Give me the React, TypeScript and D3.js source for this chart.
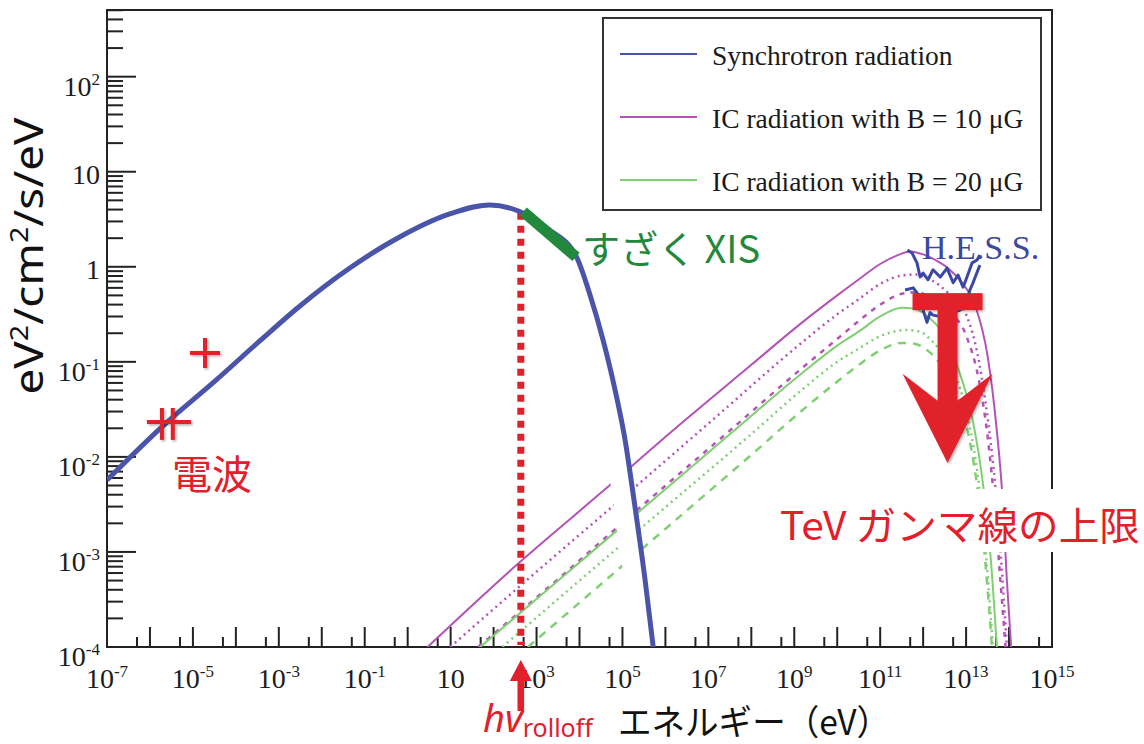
import React from "react";
import * as d3 from "d3";

// ---------- data (energy in eV, E^2 dN/dE in eV/cm2/s) ----------
const syncEnergy = [1e-7, 2.2e-6, 3.3e-5, 3.6e-4, 3.1e-3, 0.045, 0.65, 9.5, 81, 380, 2000, 8500, 1.76e4, 3.53e4, 6.73e4, 1.15e5, 1.86e5, 3.36e5, 5.2e5];
const syncFlux = [5.7e-3, 0.022, 0.063, 0.166, 0.387, 0.97, 2.06, 3.6, 4.48, 3.86, 2.44, 1.27, 0.505, 0.17, 0.0506, 0.0151, 3.5e-3, 5.1e-4, 1.0e-4];

const ic10SolidE = [2.9, 380, 3.8e4, 1.8e6, 1e8, 1.3e9, 1e10, 3.2e10, 1e11, 2.5e11, 5e11, 1e12, 2e12, 4e12, 8e12, 1.6e13, 3.2e13, 5e13, 7.1e13, 8.9e13, 1.12e14];
const ic10SolidF = [1e-4, 7.6e-4, 4.5e-3, 0.0204, 0.093, 0.245, 0.5, 0.74, 1.07, 1.32, 1.45, 1.35, 1.17, 0.95, 0.68, 0.4, 0.112, 0.0224, 3.5e-3, 5e-4, 1e-4];

const ic10DottedE = [9.8, 1e3, 1e5, 1e7, 1.3e9, 1e10, 3.2e10, 1e11, 3.2e11, 6.3e11, 1.6e12, 4e12, 1e13, 2e13, 3.2e13, 5e13, 6.6e13, 8.9e13];
const ic10DottedF = [1e-4, 6.2e-4, 3.7e-3, 0.0224, 0.151, 0.316, 0.457, 0.66, 0.81, 0.83, 0.72, 0.52, 0.316, 0.1, 0.025, 4e-3, 7.9e-4, 1e-4];

const ic10DashedE = [44, 3.2e3, 3.2e5, 3.2e7, 1.3e9, 1e10, 3.2e10, 1e11, 3.2e11, 6.3e11, 1.6e12, 4e12, 1e13, 2e13, 3.2e13, 4.8e13, 6.3e13, 8.3e13];
const ic10DashedF = [1e-4, 5.2e-4, 3.2e-3, 0.019, 0.081, 0.174, 0.27, 0.4, 0.52, 0.54, 0.47, 0.34, 0.19, 0.063, 0.0158, 2.5e-3, 5e-4, 1e-4];

const ic20SolidE = [49, 3.2e3, 3.2e5, 3.2e7, 1.3e9, 1e10, 3.2e10, 1e11, 3.2e11, 6.3e11, 1.26e12, 2.5e12, 6.3e12, 1.41e13, 2.5e13, 3.8e13, 5.2e13];
const ic20SolidF = [1e-4, 5e-4, 2.95e-3, 0.0174, 0.072, 0.148, 0.209, 0.3, 0.37, 0.363, 0.3, 0.219, 0.089, 0.025, 5e-3, 7.9e-4, 1e-4];

const ic20DottedE = [160, 1e4, 1e6, 1e8, 1.3e9, 1e10, 3.2e10, 1e11, 4e11, 8e11, 1.6e12, 3.2e12, 6.3e12, 1.12e13, 2e13, 3e13, 4.2e13];
const ic20DottedF = [1e-4, 5e-4, 2.95e-3, 0.0174, 0.048, 0.1, 0.138, 0.186, 0.216, 0.209, 0.166, 0.112, 0.063, 0.025, 5e-3, 7.9e-4, 1e-4];

const ic20DashedE = [630, 3.2e4, 3.2e6, 1e8, 1.3e9, 1e10, 3.2e10, 1e11, 3.2e11, 6.3e11, 1.26e12, 2.5e12, 5e12, 1e13, 1.8e13, 2.8e13, 4e13];
const ic20DashedF = [1e-4, 4.6e-4, 2.75e-3, 0.0105, 0.029, 0.062, 0.093, 0.132, 0.158, 0.155, 0.132, 0.095, 0.056, 0.022, 5e-3, 7.9e-4, 1e-4];

const hessUpperE = [4.3e11, 5.5e11, 7.2e11, 8.5e11, 1.0e12, 1.3e12, 1.7e12, 2.5e12, 3.6e12, 5.0e12, 6.5e12, 8.5e12, 1.05e13, 1.38e13, 1.8e13, 2.1e13];
const hessUpperF = [1.5, 1.4, 1.1, 0.78, 0.86, 0.73, 0.93, 0.78, 0.97, 0.68, 0.82, 0.61, 0.78, 1.1, 1.18, 1.33];
const hessLowerE = [3.8e11, 5.9e11, 8.5e11, 1.0e12, 1.23e12, 1.45e12, 1.7e12, 2.5e12, 3.6e12, 5.0e12, 7.2e12, 9.5e12, 1.23e13, 1.45e13, 1.9e13, 2.1e13];
const hessLowerF = [0.57, 0.6, 0.48, 0.35, 0.26, 0.33, 0.31, 0.3, 0.28, 0.33, 0.35, 0.38, 0.57, 0.68, 0.93, 1.04];

// radio points: energy, flux, energy range, flux range
const radioE = [1.9e-6, 3.4e-6, 1.91e-5];
const radioF = [0.0233, 0.0233, 0.124];
const radioELo = [8.5e-7, 1.54e-6, 8.55e-6];
const radioEHi = [5.0e-6, 9.0e-6, 4.28e-5];
const radioFLo = [0.0151, 0.0151, 0.0861];
const radioFHi = [0.0327, 0.0327, 0.178];

const xisE = [490, 8300];
const xisF = [3.8, 1.27];

const rolloffE = 430;
const rolloffTopF = 3.7;

const upperLimitE = 3.7e12;
const upperLimitF = 0.43;
const upperLimitTipF = 8.6e-3;

const xLabelExponents = [-7, -5, -3, -1, 1, 3, 5, 7, 9, 11, 13, 15];
const yLabelExponents = [-4, -3, -2, -1, 0, 1, 2];
const legendLabels = ["Synchrotron radiation", "IC radiation with B = 10 \u03bcG", "IC radiation with B = 20 \u03bcG"];

const C_SYNC = "#4a55aa";
const C_PURPLE = "#b552b8";
const C_GREEN = "#80cf72";
const C_RED = "#e2202c";
const C_XIS = "#22883c";
const C_HESS = "#3a48a4";

const zip = (a: number[], b: number[]) => a.map((v, i) => [v, b[i]] as [number, number]);

export default function App() {
  const left = 107, right = 1052, top = 10, bottom = 647;
  const x = d3.scaleLog().domain([1e-7, 1e15]).range([left, right]);
  const y = d3.scaleLog().domain([1e-4, 503]).range([bottom, top]);
  const smooth = d3.line<[number, number]>().x(d => x(d[0])).y(d => y(d[1])).curve(d3.curveMonotoneX);
  const straight = d3.line<[number, number]>().x(d => x(d[0])).y(d => y(d[1]));

  const xMajor: number[] = [];
  const xMinor: number[] = [];
  for (let n = -7; n <= 14; n++) {
    if (n > -7) xMajor.push(Math.pow(10, n));
    xMinor.push(5 * Math.pow(10, n));
  }
  const yMajor: number[] = [];
  const yMinor: number[] = [];
  for (let n = -4; n <= 2; n++) {
    if (n > -4) yMajor.push(Math.pow(10, n));
    for (let k = 2; k <= 9; k++) {
      const v = k * Math.pow(10, n);
      if (v < 503) yMinor.push(v);
    }
  }

  const serif = "'Liberation Serif', 'DejaVu Serif', serif";
  const sans = "'Noto Sans', 'Open Sans', sans-serif";
  const jp = "'Noto Sans CJK JP', 'Noto Sans', sans-serif";

  const expLabel = (n: number) => {
    if (n === 0) return <>1</>;
    if (n === 1) return <>10</>;
    return (
      <>
        10
        <tspan dy={-11} fontSize={17}>{n < 0 ? "-" + Math.abs(n) : String(n)}</tspan>
      </>
    );
  };

  const icSeries = [
    { e: ic10SolidE, f: ic10SolidF, c: C_PURPLE, dash: undefined, w: 2 },
    { e: ic10DottedE, f: ic10DottedF, c: C_PURPLE, dash: "2 4", w: 2.5 },
    { e: ic10DashedE, f: ic10DashedF, c: C_PURPLE, dash: "5 6", w: 2.5 },
    { e: ic20SolidE, f: ic20SolidF, c: C_GREEN, dash: undefined, w: 2 },
    { e: ic20DottedE, f: ic20DottedF, c: C_GREEN, dash: "2 4", w: 2.5 },
    { e: ic20DashedE, f: ic20DashedF, c: C_GREEN, dash: "8 7", w: 2.5 },
  ];

  const syncPts = zip(syncEnergy, syncFlux);
  const maskPts = syncPts.filter(p => p[0] >= 1.7e4);

  const rx = x(rolloffE);
  const ulx = x(upperLimitE);
  const uly = y(upperLimitF);
  const tipY = y(upperLimitTipF);

  const legendRows = [57, 120, 183];
  const legendColors = [C_SYNC, C_PURPLE, C_GREEN];

  return (
    <svg width={1144} height={744} style={{ position: "absolute", left: 0, top: 0, background: "#fff" }}>
      <defs>
        <clipPath id="plot">
          <rect x={left} y={top} width={right - left} height={bottom - top} />
        </clipPath>
        <clipPath id="maskclip">
          <rect x={left} y={400} width={right - left} height={244} />
        </clipPath>
        <filter id="shadow" x="-20%" y="-20%" width="140%" height="140%">
          <feDropShadow dx={1.5} dy={1.5} stdDeviation={1.2} floodColor="#000" floodOpacity={0.3} />
        </filter>
      </defs>
      <rect x={0} y={0} width={1144} height={744} fill="#fff" />

      {/* frame & ticks */}
      <g stroke="#222" strokeWidth={2}>
        {xMajor.map((v, i) => <line key={"xM" + i} x1={x(v)} x2={x(v)} y1={bottom} y2={bottom - 20} />)}
        {xMinor.map((v, i) => <line key={"xm" + i} x1={x(v)} x2={x(v)} y1={bottom} y2={bottom - 10} />)}
        {yMajor.map((v, i) => <line key={"yM" + i} x1={left} x2={left + 29} y1={y(v)} y2={y(v)} />)}
        {yMinor.map((v, i) => <line key={"ym" + i} x1={left} x2={left + 16} y1={y(v)} y2={y(v)} />)}
        <rect x={left} y={top} width={right - left} height={bottom - top} fill="none" />
      </g>

      {/* tick labels */}
      <g fontFamily={serif} fontSize={28} fill="#1c1c1c">
        {xLabelExponents.map(n => (
          <text key={"xl" + n} x={x(Math.pow(10, n))} y={688} textAnchor="middle">{expLabel(n)}</text>
        ))}
        {yLabelExponents.map(n => (
          <text key={"yl" + n} x={100} y={y(Math.pow(10, n)) + (n === 0 || n === 1 ? 12 : 19)} textAnchor="end">{expLabel(n)}</text>
        ))}
      </g>

      {/* IC curves */}
      <g clipPath="url(#plot)" fill="none">
        {icSeries.map((s, i) => (
          <path key={"ic" + i} d={smooth(zip(s.e, s.f)) || ""} stroke={s.c} strokeWidth={s.w} strokeDasharray={s.dash} />
        ))}
      </g>

      {/* white halo around the synchrotron cut-off */}
      <g clipPath="url(#maskclip)">
        <path d={smooth(maskPts) || ""} transform="translate(-11,0)" fill="none" stroke="#fff" strokeWidth={20} />
      </g>

      {/* rolloff dotted line */}
      <line x1={rx} x2={rx} y1={y(rolloffTopF)} y2={bottom - 2} stroke={C_RED} strokeWidth={7} strokeDasharray="7 6" />

      {/* synchrotron */}
      <path d={smooth(syncPts) || ""} fill="none" stroke={C_SYNC} strokeWidth={5} clipPath="url(#plot)" />

      {/* XIS band */}
      <path d={straight(zip(xisE, xisF)) || ""} stroke={C_XIS} strokeWidth={11} fill="none" />

      {/* HESS */}
      <g fill="none" stroke={C_HESS} strokeWidth={3} strokeLinejoin="round">
        <path d={straight(zip(hessUpperE, hessUpperF)) || ""} />
        <path d={straight(zip(hessLowerE, hessLowerF)) || ""} />
      </g>

      {/* radio points */}
      <g stroke={C_RED} strokeWidth={4} filter="url(#shadow)">
        {radioE.map((e, i) => (
          <g key={"r" + i}>
            <line x1={x(radioELo[i])} x2={x(radioEHi[i])} y1={y(radioF[i])} y2={y(radioF[i])} />
            <line x1={x(e)} x2={x(e)} y1={y(radioFLo[i])} y2={y(radioFHi[i])} />
          </g>
        ))}
      </g>

      {/* upper limit arrow */}
      <g fill={C_RED} filter="url(#shadow)">
        <rect x={ulx - 35} y={uly - 8.5} width={70} height={17} />
        <rect x={ulx - 10} y={uly + 8} width={20} height={100} />
        <polygon points={`${ulx - 10},${uly + 99} ${ulx - 45},${uly + 72} ${ulx},${tipY} ${ulx + 45},${uly + 72} ${ulx + 10},${uly + 99}`} />
      </g>

      {/* rolloff arrow below axis */}
      <g fill={C_RED}>
        <rect x={rx - 3.3} y={678} width={6.6} height={33} />
        <polygon points={`${rx - 11},${681} ${rx},${660} ${rx + 11},${681}`} />
      </g>

      {/* legend */}
      <rect x={603} y={18} width={438} height={192} fill="#fff" stroke="#333" strokeWidth={2} />
      {legendLabels.map((l, i) => (
        <g key={"lg" + i}>
          <line x1={620} x2={697} y1={legendRows[i] - 3} y2={legendRows[i] - 3} stroke={legendColors[i]} strokeWidth={2} />
          <text x={712} y={legendRows[i] + 8} fontFamily={serif} fontSize={27.5} fill="#1a1a1a">{l}</text>
        </g>
      ))}

      {/* annotations */}
      <text x={922} y={259} fontFamily={serif} fontSize={34} fill={C_HESS}>H.E.S.S.</text>
      <text x={582} y={263} fontFamily={jp} fontSize={38} fill={C_XIS}>すざく XIS</text>
      <text x={172} y={489} fontFamily={jp} fontSize={40} fill={C_RED}>電波</text>
      <rect x={774} y={489} width={370} height={63} fill="#fff" />
      <text x={780} y={540} fontFamily={jp} fontSize={39} fill={C_RED} textLength={360} lengthAdjust="spacingAndGlyphs">TeV ガンマ線の上限</text>

      {/* axis titles */}
      <text transform="translate(43,256) rotate(-90)" textAnchor="middle" fontFamily={sans} fontSize={40} fill="#111" textLength={277} lengthAdjust="spacingAndGlyphs">
        eV<tspan dy={-15} fontSize={25}>2</tspan><tspan dy={15}>/cm</tspan><tspan dy={-15} fontSize={25}>2</tspan><tspan dy={15}>/s/eV</tspan>
      </text>
      <text x={618} y={735} fontFamily={jp} fontSize={35} fill="#111" textLength={272} lengthAdjust="spacingAndGlyphs">エネルギー（eV）</text>
      <text x={483} y={732} fontFamily={sans} fill={C_RED}>
        <tspan fontSize={38} fontStyle="italic">hv</tspan>
        <tspan fontSize={25} dy={5}>rolloff</tspan>
      </text>
    </svg>
  );
}
